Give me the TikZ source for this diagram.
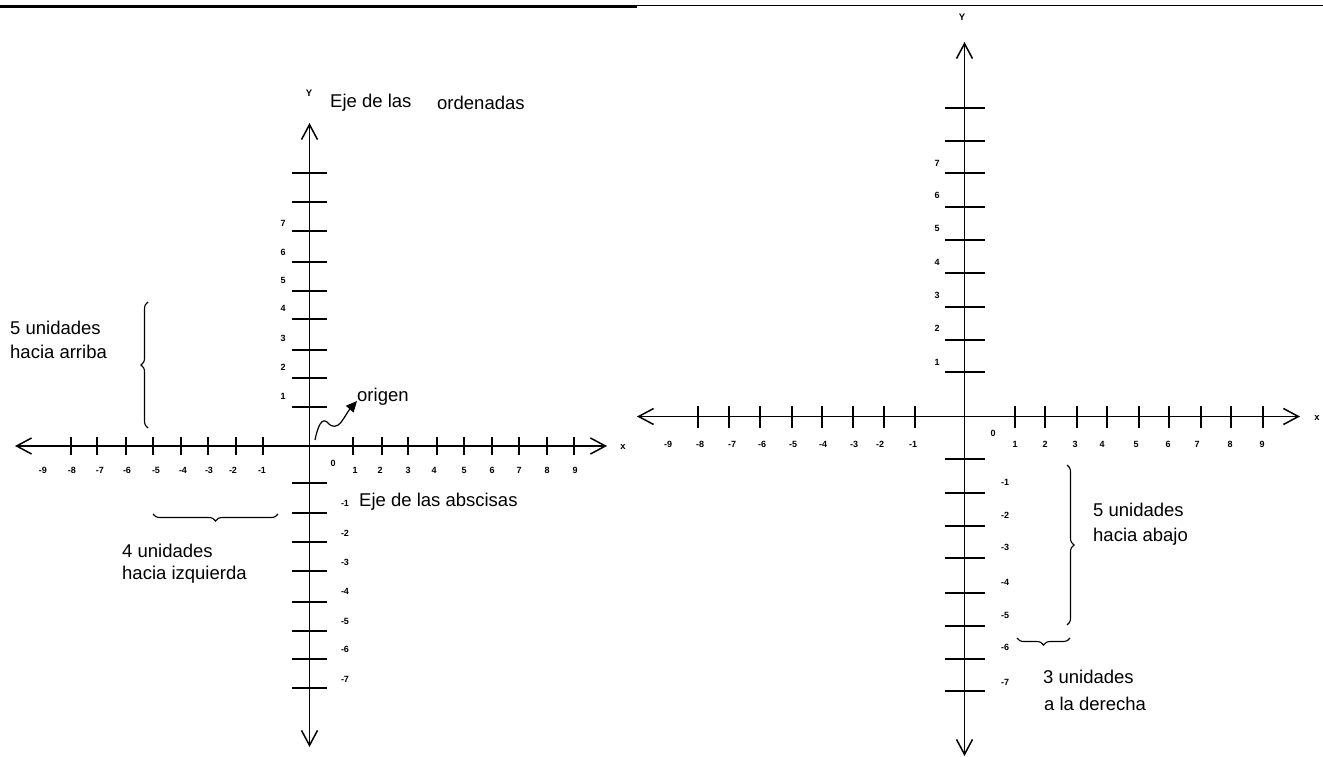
\documentclass[tikz,border=0pt]{standalone}
\usepackage{fontspec}
\setmainfont{Liberation Sans}
\usetikzlibrary{arrows.meta,decorations.pathreplacing}
\begin{document}
\begin{tikzpicture}[x=1pt,y=-1pt,
  axis/.style={line width=1.5pt, {Straight Barb[length=15pt,width=16pt]}-{Straight Barb[length=15pt,width=16pt]}},
  tickmark/.style={line width=1.5pt},
  num/.style={font=\fontsize{9}{9}\selectfont\bfseries, inner sep=0pt},
  lbl/.style={font=\fontsize{18.5}{22}\selectfont, inner sep=0pt, anchor=west},
  axname/.style={font=\fontsize{9.5}{10}\selectfont\bfseries, inner sep=0pt},
  brc/.style={decorate, decoration={brace, amplitude=7pt}, line width=1.1pt},
]
\useasboundingbox (0,0) rectangle (1323,757);
% top rules
\coordinate (r1a) at (0,6.5); \coordinate (r1b) at (637,6.5);
\coordinate (r2a) at (637,6); \coordinate (r2b) at (1323,6);
\draw[line width=2.2pt] (r1a) -- (r1b);
\draw[line width=1pt] (r2a) -- (r2b);

% ================= LEFT PLOT =================
\coordinate (Lw) at (15,446); \coordinate (Le) at (607,446);
\coordinate (Ln) at (309.5,123); \coordinate (Ls) at (309.5,747);
\draw[axis] (Lw) -- (Le);
\draw[axis] (Ln) -- (Ls);
\foreach \t in {71,97,126,153,181,208,236,263,353,382,408,437,464,492,519,547,574}
  \draw[tickmark] (\t,437) -- (\t,455);
\foreach \t in {173,202,231,262,291,319,350,378,407,483,513,542,571,602,631,659,688}
  \draw[tickmark] (292,\t) -- (327,\t);
\foreach \v/\p [count=\i] in {-9/43,-8/72,-7/100,-6/127,-5/156,-4/183,-3/209,-2/233,-1/262,1/355,2/380,3/408,4/434,5/464,6/492,7/519,8/547,9/575}
  \node[num] (Lx\i) at (\p,470) {\v};
\node[num] (L0) at (333,463) {0};
\foreach \v/\p [count=\i] in {7/223,6/252,5/280,4/308,3/338,2/367,1/396}
  \node[num] (Ly\i) at (283,\p) {\v};
\foreach \v/\p [count=\i] in {-1/503,-2/533,-3/562,-4/591,-5/621,-6/649,-7/679}
  \node[num] (Lyn\i) at (345,\p) {\v};
\node[axname] (LY) at (309,93) {Y};
\node[axname] (LX) at (623,447) {x};
\node[lbl] (ejeo) at (330,103) {Eje de las};
\node[lbl] (ord) at (437,103) {ordenadas};
\node[lbl] (ejea) at (359,502) {Eje de las abscisas};
\node[lbl] (origen) at (357,397) {origen};
\coordinate (os) at (315,440); \coordinate (oe) at (357,401);
\draw[line width=1.2pt, -{Triangle[length=11pt,width=10pt]}] (os) .. controls (318,425) and (322,418) .. (327,422) .. controls (332,428) and (337,428) .. (342,421) .. controls (346,415) and (349,410) .. (oe);
\node[lbl] (u5a) at (10,328) {5 unidades};
\node[lbl] (u5b) at (10,352) {hacia arriba};
\coordinate (b1a) at (148,428); \coordinate (b1b) at (148,302);
\draw[brc] (b1a) -- (b1b);
\node[lbl] (u4a) at (122,551) {4 unidades};
\node[lbl] (u4b) at (122,575) {hacia izquierda};
\coordinate (b2a) at (278,514); \coordinate (b2b) at (153,514);
\draw[brc] (b2a) -- (b2b);

% ================= RIGHT PLOT =================
\coordinate (Rw) at (637,416.5); \coordinate (Re) at (1300,416.5);
\coordinate (Rn) at (964.5,42); \coordinate (Rs) at (964.5,756);
\draw[axis] (Rw) -- (Re);
\draw[axis] (Rn) -- (Rs);
\foreach \t in {698,729,760,792,822,853,884,915,1015,1045,1077,1107,1139,1169,1201,1231,1263}
  \draw[tickmark] (\t,406) -- (\t,428);
\foreach \t in {108,141,173,207,240,273,307,340,372,459,493,526,558,593,626,659,691}
  \draw[tickmark] (945,\t) -- (985,\t);
\foreach \v/\p [count=\i] in {-9/668,-8/700,-7/732,-6/762,-5/793,-4/823,-3/854,-2/880,-1/913,1/1015,2/1045,3/1075,4/1102,5/1136,6/1168,7/1197,8/1230,9/1262}
  \node[num] (Rx\i) at (\p,444) {\v};
\node[num] (R0) at (993,433) {0};
\foreach \v/\p [count=\i] in {7/163,6/195,5/228,4/262,3/295,2/328,1/362}
  \node[num] (Ry\i) at (937,\p) {\v};
\foreach \v/\p [count=\i] in {-1/482,-2/515,-3/547,-4/582,-5/615,-6/647,-7/682}
  \node[num] (Ryn\i) at (1005,\p) {\v};
\node[axname] (RY) at (962,17) {Y};
\node[axname] (RX) at (1317,418) {x};
\coordinate (b3a) at (1067,465); \coordinate (b3b) at (1067,625);
\draw[brc] (b3a) -- (b3b);
\node[lbl] (d5a) at (1093,510) {5 unidades};
\node[lbl] (d5b) at (1093,537) {hacia abajo};
\coordinate (b4a) at (1070,638); \coordinate (b4b) at (1017,638);
\draw[brc] (b4a) -- (b4b);
\node[lbl] (d3a) at (1043,677) {3 unidades};
\node[lbl] (d3b) at (1044,704) {a la derecha};
\end{tikzpicture}
\end{document}
